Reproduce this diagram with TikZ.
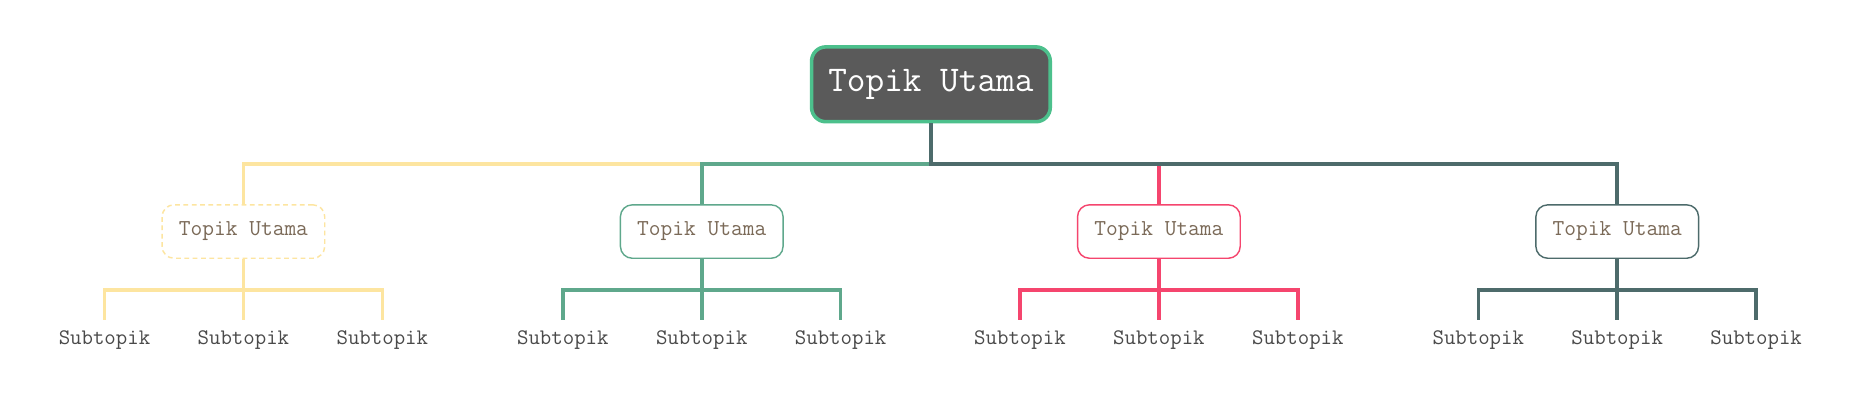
\documentclass[tikz,border=0pt]{standalone}
\usepackage{fontspec}
\begin{document}
\begin{tikzpicture}[x=1pt,y=-1pt,
  rootbox/.style={draw=cGreenB,line width=3pt,fill=cRoot,rounded corners=12pt,minimum width=201pt,minimum height=63pt,inner sep=0pt,text=white,font=\ttfamily\fontsize{30.5}{30.5}\selectfont},
  topicbox/.style={rounded corners=10pt,minimum width=137pt,minimum height=45pt,inner sep=0pt,fill=white,text=cText,font=\ttfamily\fontsize{19.2}{19.2}\selectfont,line width=1.2pt},
  subbox/.style={anchor=base,inner xsep=0pt,inner ysep=2pt,text height=18pt,text=cSub,font=\ttfamily\fontsize{18.7}{18.7}\selectfont},
  conn/.style={line width=3pt},
]
\definecolor{cRoot}{HTML}{5A5A5A}
\definecolor{cGreenB}{HTML}{4CC08C}
\definecolor{cYellow}{HTML}{FDE5A0}
\definecolor{cGreen}{HTML}{5FA88C}
\definecolor{cRed}{HTML}{F5456E}
\definecolor{cDark}{HTML}{4D6B6B}
\definecolor{cText}{HTML}{7B6A58}
\definecolor{cSub}{HTML}{4A4A4A}
\useasboundingbox[fill=white] (0,0) rectangle (1569,345);

\node[rootbox] (root) at (784,71) {Topik Utama};

\node[topicbox,draw=cYellow,dash pattern=on 4pt off 3pt] (t1) at (205,195) {Topik Utama};
\node[topicbox,draw=cGreen] (t2) at (591,195) {Topik Utama};
\node[topicbox,draw=cRed] (t3) at (976,195) {Topik Utama};
\node[topicbox,draw=cDark] (t4) at (1362,195) {Topik Utama};

\foreach \i/\c in {1/205,2/591,3/976,4/1362}{
  \node[subbox] (s\i a) at (\c-117,290) {Subtopik};
  \node[subbox] (s\i b) at (\c,290) {Subtopik};
  \node[subbox] (s\i c) at (\c+117,290) {Subtopik};
}

\draw[conn,cYellow] (root.south) -- ++(0,34) -| (t1.north);
\draw[conn,cGreen] (root.south) -- ++(0,34) -| (t2.north);
\draw[conn,cRed] (root.south) -- ++(0,34) -| (t3.north);
\draw[conn,cDark] (root.south) -- ++(0,34) -| (t4.north);

\foreach \i/\col in {1/cYellow,2/cGreen,3/cRed,4/cDark}{
  \draw[conn,\col] (t\i.south) -- ++(0,26) -| (s\i a.north);
  \draw[conn,\col] (t\i.south) -- ++(0,26) -| (s\i c.north);
  \draw[conn,\col] (t\i.south) -- (s\i b.north);
}
\end{tikzpicture}
\end{document}
